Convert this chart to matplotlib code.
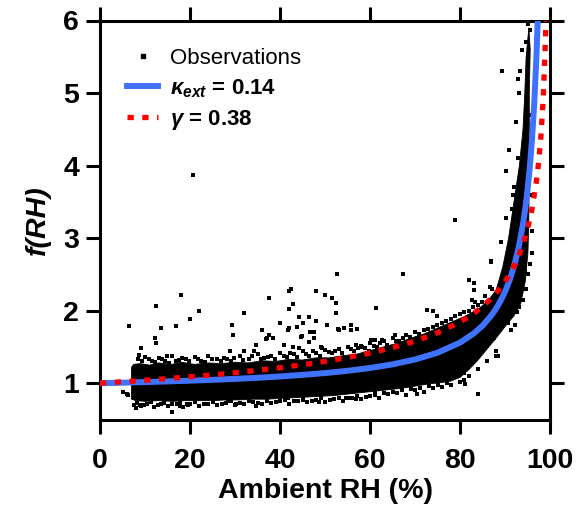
import numpy as np
import matplotlib
matplotlib.use("Agg")
import matplotlib.pyplot as plt
from matplotlib.lines import Line2D

plt.rcParams['font.family'] = ['Liberation Sans', 'DejaVu Sans']
plt.rcParams['mathtext.fontset'] = 'custom'
plt.rcParams['mathtext.it'] = 'Liberation Sans:italic:bold'
plt.rcParams['mathtext.rm'] = 'Liberation Sans:bold'
plt.rcParams['mathtext.bf'] = 'Liberation Sans:bold'

# ---------------- data ----------------
# dense core of the observation cloud (outline)
core_upper_rh = [7.0, 7.0, 7.5, 9, 11, 13, 16, 18, 21, 24, 27, 30, 33, 36, 39, 42, 45, 48, 51,
                 54, 57, 60, 63, 66, 69, 72, 75, 78, 81, 84, 86, 88, 89.5, 90.8, 92.0, 93.2,
                 94.0, 94.4, 94.7, 95.3]
core_upper_f = [0.78, 1.22, 1.26, 1.27, 1.25, 1.28, 1.26, 1.29, 1.26, 1.28, 1.27, 1.29, 1.28,
                1.31, 1.30, 1.33, 1.32, 1.35, 1.35, 1.38, 1.40, 1.45, 1.50, 1.55, 1.62, 1.68,
                1.76, 1.84, 1.92, 2.02, 2.12, 2.28, 2.60, 3.00, 3.50, 4.00, 4.50, 5.00, 5.50,
                5.90]
core_lower_rh = [7.0, 8, 10, 13, 16, 19, 22, 25, 28, 31, 34, 37, 40, 43, 46, 49, 52, 55, 58,
                 61, 64, 67, 70, 73, 76, 78, 80, 82, 84, 86, 88, 90, 92, 93.5, 94.5, 95.1,
                 95.3, 95.4, 95.4, 95.6]
core_lower_f = [0.78, 0.76, 0.75, 0.76, 0.75, 0.76, 0.76, 0.76, 0.77, 0.77, 0.78, 0.78, 0.79,
                0.80, 0.81, 0.82, 0.83, 0.85, 0.87, 0.89, 0.91, 0.93, 0.96, 0.99, 1.01, 1.03,
                1.08, 1.19, 1.32, 1.47, 1.62, 1.78, 1.93, 2.10, 2.40, 2.80, 3.30, 4.00, 5.00,
                5.60]

# scattered observations (RH %, f(RH)) outside the dense core
obs_dry = [(6.4, 1.79), (12.5, 2.06), (13.5, 1.76), (12.3, 1.63), (12.5, 1.55), (9.0, 1.48),
           (8.6, 1.39), (18.1, 2.21), (16.8, 1.79), (20.1, 1.88), (21.9, 1.99), (14.8, 1.38),
           (5.1, 0.88), (5.9, 0.85), (15.9, 0.60), (20.6, 3.87), (6.3, 0.84), (17.7, 0.68),
           (19.5, 0.70), (8.1, 0.66), (8.8, 0.70)]
obs_mid = [(29.3, 1.80), (29.6, 1.67), (31.9, 1.97), (37.6, 2.17), (41.9, 2.27), (42.4, 2.30),
           (42.0, 2.03), (42.9, 2.09), (40.0, 1.83), (36.1, 1.73), (37.6, 1.67), (36.9, 1.61),
           (38.5, 1.62), (44.2, 1.91), (46.5, 1.91), (47.9, 2.27), (50.0, 2.21), (51.5, 2.17),
           (52.4, 2.10), (52.7, 2.50), (52.4, 1.97), (50.4, 1.80), (46.7, 1.71), (44.8, 1.65),
           (47.6, 1.62), (43.7, 1.77), (41.7, 1.73), (40.9, 1.53), (42.8, 1.50), (44.2, 1.48),
           (49.3, 1.48), (34.7, 1.53), (34.7, 0.68), (40.6, 0.82), (41.7, 0.79), (45.0, 0.79),
           (48.7, 0.74), (30.2, 0.72), (28.4, 0.75), (47.9, 1.86), (55.7, 1.80), (42.0, 1.76),
           (45.0, 1.83), (47.6, 1.71), (53.1, 1.73), (37.2, 1.62), (44.6, 1.64), (46.5, 1.57),
           (49.0, 1.50), (56.8, 1.53), (58.2, 1.50), (32.1, 1.44), (34.3, 1.44), (59.7, 1.44),
           (45.0, 0.77), (54.6, 0.80), (28.8, 1.44)]
obs_humid = [(67.4, 2.50), (61.4, 2.04), (52.9, 1.75), (54.2, 1.76), (55.8, 1.74), (57.1, 1.75),
             (60.3, 1.60), (62.7, 1.60), (65.6, 1.66), (72.6, 2.01), (74.1, 1.99), (74.9, 1.92),
             (81.9, 2.42), (83.1, 2.38), (83.1, 2.29), (86.9, 2.68), (86.6, 2.33), (82.6, 2.15),
             (83.3, 2.12), (84.1, 0.85), (88.1, 1.38), (88.5, 1.38), (90.7, 1.83), (92.2, 1.80),
             (91.3, 1.73), (90.9, 2.01), (66.6, 1.00), (81.0, 0.99), (80.8, 1.05), (80.8, 1.14),
             (70.4, 0.85), (71.1, 0.93), (61.2, 0.88), (56.8, 0.78), (56.0, 0.88), (87.6, 1.63),
             (86.3, 1.55), (83.3, 1.53), (61.2, 1.60)]
obs_wet = [(94.0, 2.15), (94.4, 2.54), (95.5, 2.65), (96.0, 2.80), (91.8, 2.19), (90.8, 4.22),
           (90.2, 3.92), (91.7, 3.59), (90.2, 3.28), (89.2, 2.95), (86.9, 2.67), (89.4, 5.31),
           (78.9, 3.25), (95.6, 5.87), (92.5, 4.60), (93.0, 5.00), (93.4, 5.30), (92.8, 4.10),
           (92.0, 3.70), (91.5, 3.40), (95.9, 3.60), (95.9, 3.10), (95.9, 4.20), (95.8, 4.70),
           (95.2, 5.95), (94.6, 5.70), (93.8, 5.60), (92.9, 5.20), (94.6, 2.30), (95.0, 2.50),
           (93.2, 2.05), (92.6, 1.98)]
obs_upper_edge = [(8.5, 1.33), (10.0, 1.36), (11.5, 1.31), (13.0, 1.35), (14.5, 1.30), (16.0, 1.37),
                  (17.5, 1.32), (19.0, 1.34), (21.0, 1.36), (22.5, 1.31), (24.0, 1.38), (26.0, 1.33),
                  (27.5, 1.35), (29.0, 1.31), (31.0, 1.37), (33.0, 1.34), (35.0, 1.40), (36.5, 1.35),
                  (38.0, 1.38), (40.0, 1.42), (41.5, 1.36), (43.0, 1.40), (45.0, 1.44), (46.5, 1.38),
                  (48.0, 1.42), (50.0, 1.46), (51.5, 1.41), (53.0, 1.47), (55.0, 1.50), (56.5, 1.45),
                  (58.0, 1.52), (60.0, 1.55), (61.5, 1.50), (63.0, 1.58), (65.0, 1.62), (66.5, 1.58),
                  (68.0, 1.66), (70.0, 1.70), (72.0, 1.73), (74.0, 1.78), (76.0, 1.83), (78.0, 1.88),
                  (80.0, 1.95), (82.0, 2.00), (84.0, 2.08), (85.5, 2.20), (87.0, 2.30)]
obs_upper_edge2 = [(9.3, 1.30), (10.8, 1.33), (12.3, 1.29), (13.8, 1.33), (15.3, 1.28), (16.8, 1.31),
                   (18.3, 1.35), (19.8, 1.30), (21.8, 1.33), (23.3, 1.29), (24.8, 1.34), (26.8, 1.30),
                   (28.3, 1.33), (29.8, 1.35), (31.8, 1.32), (33.8, 1.37), (35.8, 1.33), (37.3, 1.36),
                   (38.8, 1.33), (40.8, 1.38), (42.3, 1.41), (43.8, 1.36), (45.8, 1.40), (47.3, 1.44),
                   (48.8, 1.38), (50.8, 1.43), (52.3, 1.45), (53.8, 1.42), (55.8, 1.47), (57.3, 1.49),
                   (58.8, 1.48), (60.8, 1.52), (62.3, 1.55), (63.8, 1.53), (65.8, 1.58), (67.3, 1.62),
                   (68.8, 1.64), (70.8, 1.68), (72.8, 1.75), (74.8, 1.80), (76.8, 1.86), (78.8, 1.92),
                   (80.8, 1.98), (82.8, 2.05), (84.8, 2.12)]
obs_lower_edge = [(7.5, 0.70), (9.0, 0.68), (10.5, 0.72), (12.0, 0.67), (13.5, 0.71), (15.0, 0.69),
                  (17.0, 0.72), (18.5, 0.67), (20.0, 0.71), (22.0, 0.69), (24.0, 0.72), (26.0, 0.70),
                  (28.0, 0.73), (30.0, 0.70), (32.0, 0.72), (34.0, 0.74), (36.0, 0.71), (38.0, 0.73),
                  (40.0, 0.75), (42.0, 0.72), (44.0, 0.76), (46.0, 0.74), (48.0, 0.77), (50.0, 0.74),
                  (52.0, 0.78), (54.0, 0.76), (56.0, 0.80), (58.0, 0.78), (60.0, 0.82), (62.0, 0.80),
                  (64.0, 0.85), (66.0, 0.87), (68.0, 0.84), (70.0, 0.90), (72.0, 0.88), (74.0, 0.93),
                  (76.0, 0.95), (78.0, 0.98), (80.0, 1.02), (82.0, 1.10), (84.0, 1.20), (86.0, 1.30),
                  (88.0, 1.45)]
obs_lower_edge2 = [(8.3, 0.73), (9.8, 0.70), (11.3, 0.74), (12.8, 0.70), (14.3, 0.73), (16.0, 0.71),
                   (17.8, 0.74), (19.3, 0.72), (21.0, 0.74), (23.0, 0.71), (25.0, 0.74), (27.0, 0.72),
                   (29.0, 0.75), (31.0, 0.73), (33.0, 0.75), (35.0, 0.73), (37.0, 0.76), (39.0, 0.74),
                   (41.0, 0.77), (43.0, 0.75), (45.0, 0.78), (47.0, 0.76), (49.0, 0.79), (51.0, 0.77),
                   (53.0, 0.80), (55.0, 0.79), (57.0, 0.82), (59.0, 0.81), (61.0, 0.84), (63.0, 0.86),
                   (65.0, 0.88), (67.0, 0.90), (69.0, 0.92), (71.0, 0.93), (73.0, 0.96), (75.0, 0.98),
                   (77.0, 1.00)]

# kappa_ext = 0.14 fit curve
kappa_rh = [0, 5, 10, 15, 20, 25, 30, 35, 40, 45, 50, 55, 60, 65, 70, 75, 80, 83, 85, 87, 88,
            89, 90, 91, 92, 93, 94, 94.5, 95, 95.5, 96, 96.5, 97, 97.3]
kappa_f = [1.00, 1.007, 1.016, 1.025, 1.035, 1.047, 1.060, 1.075, 1.093, 1.115, 1.14, 1.171,
           1.21, 1.26, 1.327, 1.42, 1.56, 1.684, 1.793, 1.937, 2.027, 2.133, 2.26, 2.416,
           2.61, 2.86, 3.193, 3.405, 3.66, 3.97, 4.36, 4.86, 5.527, 6.045]

# gamma = 0.38 fit curve
gamma_rh = [0, 5, 10, 15, 20, 25, 30, 35, 40, 45, 50, 55, 60, 65, 70, 75, 80, 83, 85, 87, 89,
            90, 91, 92, 93, 94, 95, 96, 97, 97.5, 98, 98.5, 99, 99.2]
gamma_f = [1.0, 1.020, 1.041, 1.064, 1.089, 1.115, 1.145, 1.178, 1.214, 1.255, 1.301, 1.355,
           1.417, 1.490, 1.580, 1.695, 1.842, 1.960, 2.055, 2.175, 2.313, 2.399, 2.499, 2.612,
           2.747, 2.908, 3.121, 3.398, 3.793, 4.060, 4.420, 4.931, 5.754, 6.271]

x_ticks = [0, 20, 40, 60, 80, 100]
y_ticks = [1, 2, 3, 4, 5, 6]
labels = ['Observations', r'$\kappa_{ext}$ = 0.14', r'$\gamma$ = 0.38']

# ---------------- figure ----------------
fig = plt.figure(figsize=(5.79, 5.18), dpi=100)
ax = fig.add_axes([100 / 579, 1 - 419.5 / 518, 450 / 579, 399 / 518])

blue = '#3F72FF'
red = '#FF0000'

poly_x = list(core_upper_rh) + list(core_lower_rh[::-1])
poly_y = list(core_upper_f) + list(core_lower_f[::-1])
ax.fill(poly_x, poly_y, color='k', lw=0.6, ec='k', zorder=2)

all_obs = (obs_dry + obs_mid + obs_humid + obs_wet + obs_upper_edge + obs_upper_edge2
           + obs_lower_edge + obs_lower_edge2)
obs_x = [p[0] for p in all_obs]
obs_y = [p[1] for p in all_obs]
ax.scatter(obs_x, obs_y, marker='s', s=6.5, c='k', lw=0, zorder=2)

ax.plot(kappa_rh, kappa_f, color=blue, lw=4.3, zorder=3, solid_capstyle='butt')
ax.plot(gamma_rh, gamma_f, color=red, lw=3.8, ls=(0, (1.2, 1.6)), zorder=4,
        dash_capstyle='butt')

ax.set_xlim(0, 100)
ax.set_ylim(0.5, 6)
ax.set_xticks(x_ticks)
ax.set_yticks(y_ticks)
ax.tick_params(direction='out', length=10, width=2.2, top=True, right=True,
               labelsize=20.5)
ax.tick_params(axis='x', pad=10.5)
ax.tick_params(axis='y', pad=5)
for lab in ax.get_xticklabels() + ax.get_yticklabels():
    lab.set_fontweight('bold')
for sp in ax.spines.values():
    sp.set_linewidth(2.2)

ax.set_xlabel('Ambient RH (%)', fontsize=20.5, fontweight='bold', labelpad=3)
ax.set_ylabel('f(RH)', fontsize=20.5, fontweight='bold', fontstyle='italic', labelpad=9)

handles = [
    Line2D([], [], marker='s', ls='none', color='k', markersize=2.6),
    Line2D([], [], color=blue, lw=4.3),
    Line2D([], [], color=red, lw=3.8, ls=(0, (1.2, 1.6)), dash_capstyle='butt'),
]
leg = ax.legend(handles, labels, loc='upper left', bbox_to_anchor=(0.06, 0.932),
                frameon=False, fontsize=16, handlelength=1.4, handletextpad=0.55,
                labelspacing=0.38, borderaxespad=0, borderpad=0)
texts = leg.get_texts()
texts[1].set_fontweight('bold')
texts[2].set_fontweight('bold')

fig.savefig('out.png', dpi=100)
